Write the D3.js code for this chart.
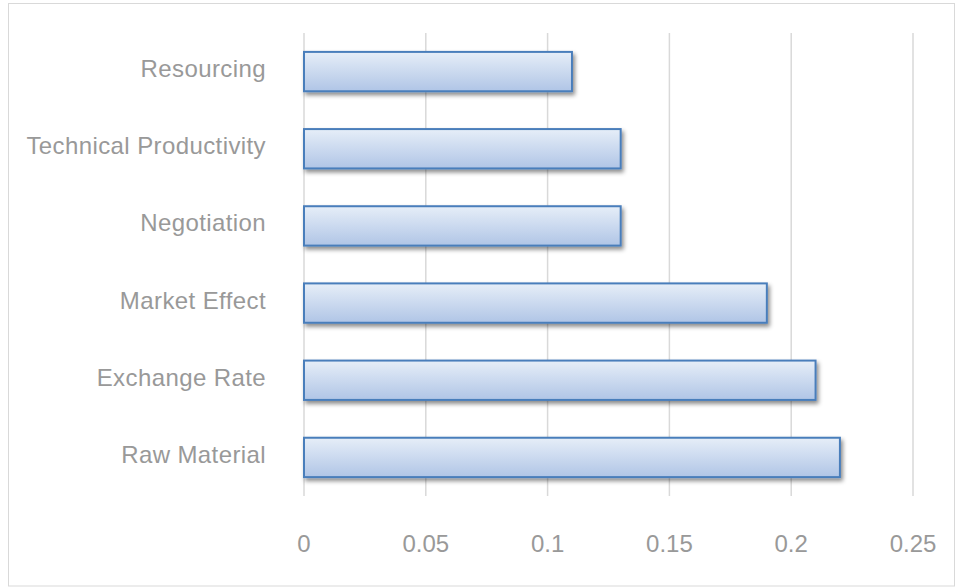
<!DOCTYPE html>
<html><head><meta charset="utf-8">
<script src="https://cdn.jsdelivr.net/npm/d3@7"></script>
<style>body{margin:0;background:#fff}svg{display:block}</style>
</head><body>
<svg id="c" width="956" height="587"></svg>
<script>
const categories = ["Resourcing","Technical Productivity","Negotiation","Market Effect","Exchange Rate","Raw Material"];
const values = [0.11,0.13,0.13,0.19,0.21,0.22];
const ticks = [0,0.05,0.1,0.15,0.2,0.25];

(function(){
const svg = d3.select("#c");
const W=956,H=587;
svg.append("rect").attr("x",8.5).attr("y",3.5).attr("width",W-10).attr("height",H-4.5)
  .attr("fill","#fff").attr("stroke","#d9d9d9").attr("stroke-width",1);

const defs = svg.append("defs");
const g = defs.append("linearGradient").attr("id","bg").attr("x1",0).attr("y1",0).attr("x2",0).attr("y2",1);
g.append("stop").attr("offset","0%").attr("stop-color","#e6eef8");
g.append("stop").attr("offset","100%").attr("stop-color","#b0c5e6");
const f = defs.append("filter").attr("id","sh").attr("x","-5%").attr("y","-20%").attr("width","115%").attr("height","160%");
f.append("feDropShadow").attr("dx",2).attr("dy",3).attr("stdDeviation",2).attr("flood-color","#000").attr("flood-opacity",0.45);

const pL=304,pR=913,pT=33,pB=496;
const x = d3.scaleLinear().domain([0,0.25]).range([pL,pR]);
const y = d3.scaleBand().domain(categories).range([pT,pB]).paddingInner(0.49).paddingOuter(0.245);

svg.append("g").selectAll("line").data(ticks).join("line")
  .attr("x1",d=>x(d)).attr("x2",d=>x(d)).attr("y1",pT).attr("y2",pB)
  .attr("stroke","#d9d9d9").attr("stroke-width",1.5);

svg.append("g").selectAll("rect").data(values).join("rect")
  .attr("x",x(0)).attr("y",(d,i)=>y(categories[i]))
  .attr("width",d=>x(d)-x(0)).attr("height",y.bandwidth())
  .attr("fill","url(#bg)").attr("stroke","#4a7ebb").attr("stroke-width",2)
  .attr("filter","url(#sh)");

const font = "'Liberation Sans', Arial, sans-serif";
svg.append("g").selectAll("text").data(categories).join("text")
  .attr("x",266).attr("y",d=>y(d)+y.bandwidth()/2+5.5)
  .attr("text-anchor","end").attr("font-family",font).attr("font-size",24)
  .attr("letter-spacing",0.4)
  .attr("fill","#999999").text(d=>d);

svg.append("g").selectAll("text").data(ticks).join("text")
  .attr("x",d=>x(d)).attr("y",552)
  .attr("text-anchor","middle").attr("font-family",font).attr("font-size",24)
  .attr("fill","#999999").text(d=>d3.format("")(d));
})();
</script>
</body></html>
